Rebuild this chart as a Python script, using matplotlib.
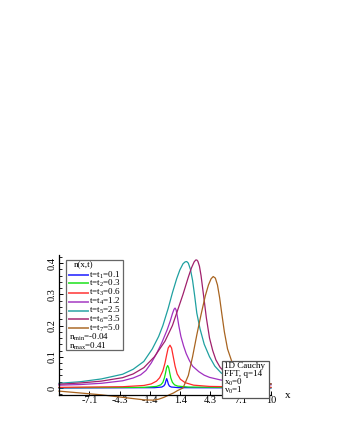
import matplotlib
matplotlib.use('Agg')
import matplotlib.pyplot as plt
from matplotlib.patches import Rectangle
from matplotlib.lines import Line2D
from matplotlib.ticker import MultipleLocator

plt.rcParams['font.family'] = ['Liberation Serif', 'DejaVu Serif']
plt.rcParams['mathtext.fontset'] = 'custom'
plt.rcParams['mathtext.rm'] = 'Liberation Serif'
plt.rcParams['mathtext.it'] = 'Liberation Serif:italic'

# curves, one (x, n) list per time
x_t1 = [-10, -1, -0.3, -0.1, 0.0, 0.08, 0.16, 0.24, 0.32, 0.42, 0.6, 1.3, 10]
n_t1 = [0, 0.001, 0.003, 0.007, 0.012, 0.022, 0.03, 0.022, 0.012, 0.006,
        0.003, 0.001, 0]

x_t2 = [-10, -2, -0.8, -0.4, -0.2, -0.05, 0.05, 0.15, 0.25, 0.35, 0.45, 0.55,
        0.7, 0.9, 1.2, 2.2, 10]
n_t2 = [0.001, 0.002, 0.005, 0.01, 0.018, 0.033, 0.048, 0.065, 0.072, 0.065,
        0.048, 0.032, 0.018, 0.01, 0.006, 0.003, 0.001]

x_t3 = [-10, -4, -2, -1.3, -0.8, -0.5, -0.2, 0.0, 0.15, 0.3, 0.47, 0.62, 0.78,
        0.95, 1.15, 1.45, 1.9, 2.7, 4.2, 10]
n_t3 = [0.002, 0.004, 0.008, 0.013, 0.022, 0.033, 0.055, 0.08, 0.105, 0.128,
        0.137, 0.128, 0.1, 0.07, 0.045, 0.028, 0.017, 0.009, 0.005, 0.002]

x_t4 = [-10, -8, -6, -4, -3, -2.3, -1.8, -1.3, -0.8, -0.3, 0.2, 0.5, 0.7, 0.85,
        0.95, 1.05, 1.15, 1.3, 1.5, 1.75, 2.0, 2.3, 2.6, 3.2, 3.7, 4.2, 5.2,
        6.2, 7.2, 8.2, 10]
n_t4 = [0.009, 0.011, 0.015, 0.023, 0.032, 0.042, 0.056, 0.08, 0.11, 0.145,
        0.186, 0.215, 0.238, 0.252, 0.256, 0.25, 0.232, 0.2, 0.165, 0.135,
        0.11, 0.088, 0.07, 0.052, 0.041, 0.034, 0.026, 0.02, 0.016, 0.013, 0.01]

x_t5 = [-10, -8, -6, -4, -3, -2, -1.2, -0.6, -0.2, 0.3, 0.7, 1.1, 1.4, 1.7,
        1.9, 2.05, 2.2, 2.4, 2.6, 2.8, 3.0, 3.3, 3.7, 4.2, 4.7, 5.3, 6.2, 7.2,
        8.2, 10]
n_t5 = [0.015, 0.02, 0.029, 0.044, 0.06, 0.085, 0.125, 0.165, 0.2, 0.255,
        0.305, 0.35, 0.378, 0.398, 0.404, 0.405, 0.4, 0.38, 0.345, 0.295, 0.24,
        0.19, 0.14, 0.1, 0.07, 0.048, 0.032, 0.023, 0.018, 0.013]

x_t6 = [-10, -8, -6, -4, -3, -2, -1, 0, 0.7, 1.2, 1.7, 2.2, 2.5, 2.75, 2.9,
        3.0, 3.1, 3.25, 3.4, 3.55, 3.7, 3.9, 4.2, 4.5, 4.8, 5.2, 5.8, 6.7, 7.7,
        8.7, 10]
n_t6 = [0.012, 0.016, 0.022, 0.033, 0.045, 0.065, 0.1, 0.15, 0.2, 0.25, 0.3,
        0.355, 0.385, 0.404, 0.41, 0.41, 0.406, 0.39, 0.36, 0.32, 0.28, 0.225,
        0.16, 0.12, 0.09, 0.066, 0.045, 0.03, 0.022, 0.017, 0.013]

x_t7 = [-10, -8, -6, -4, -3, -2, -1.1, -0.6, -0.1, 0.4, 0.8, 1.2, 1.7, 2.2,
        2.6, 3.0, 3.4, 3.8, 4.1, 4.35, 4.55, 4.75, 4.95, 5.15, 5.35, 5.6, 5.9,
        6.4, 7.0, 7.7, 8.7, 10]
n_t7 = [-0.01, -0.016, -0.022, -0.03, -0.034, -0.038, -0.039, -0.036, -0.03,
        -0.022, -0.016, -0.008, 0.0, 0.04, 0.1, 0.17, 0.235, 0.295, 0.33, 0.35,
        0.357, 0.352, 0.33, 0.29, 0.24, 0.18, 0.125, 0.075, 0.045, 0.03, 0.02,
        0.013]

curves = [(x_t1, n_t1), (x_t2, n_t2), (x_t3, n_t3), (x_t4, n_t4),
          (x_t5, n_t5), (x_t6, n_t6), (x_t7, n_t7)]
labels = [r't=t$_1$=0.1', r't=t$_2$=0.3', r't=t$_3$=0.6', r't=t$_4$=1.2',
          r't=t$_5$=2.5', r't=t$_6$=3.5', r't=t$_7$=5.0']
colors = ['#1010ff', '#10e010', '#ff2a2a', '#a030c0', '#1fa0a0', '#a0206c', '#a86420']

x_ticks = [-7.14, -4.29, -1.43, 1.43, 4.29, 7.14, 10]
x_ticklabels = ['-7.1', '-4.3', '-1.4', '1.4', '4.3', '7.1', '10']
y_ticks = [0, 0.1, 0.2, 0.3, 0.4]
y_ticklabels = ['0', '0.1', '0.2', '0.3', '0.4']

fig = plt.figure(figsize=(3.4, 4.4), dpi=100)
ax = fig.add_axes([59 / 340, 45 / 440, 212 / 340, 140 / 440])

for (xs, ns), c in zip(curves, colors):
    ax.plot(xs, ns, color=c, lw=0.9, clip_on=False, zorder=2)

ax.set_xlim(-10, 10)
ax.set_ylim(-0.0225, 0.426)
for s in ['top', 'right']:
    ax.spines[s].set_visible(False)
for s in ['left', 'bottom']:
    ax.spines[s].set_linewidth(0.9)

ax.set_xticks(x_ticks)
ax.set_xticklabels(x_ticklabels)
ax.set_yticks(y_ticks)
ax.set_yticklabels(y_ticklabels, rotation=90, va='center')
ax.yaxis.set_minor_locator(MultipleLocator(0.02))
ax.tick_params(direction='in', length=3, width=0.7, labelsize=7.5, pad=2)
ax.tick_params(which='minor', direction='in', length=2, width=0.6)
ax.tick_params(axis='x', pad=1)

ax.text(1.08, 0.0, 'x', transform=ax.transAxes, fontsize=8,
        ha='center', va='center')

# legend box
fs = 6.5
ax.add_patch(Rectangle((0.033, 0.32), 0.27, 0.645, transform=ax.transAxes,
                       facecolor='white', edgecolor='#666666', lw=0.9, zorder=5))
ax.text(0.07, 0.93, 'n(x,t)', transform=ax.transAxes, fontsize=fs,
        va='center', ha='left', zorder=6)
row_y = [0.857, 0.798, 0.731, 0.666, 0.602, 0.541, 0.476]
for yy, lab, c in zip(row_y, labels, colors):
    ax.add_line(Line2D([0.045, 0.135], [yy, yy], transform=ax.transAxes,
                       color=c, lw=1.4, alpha=0.75, zorder=6))
    ax.text(0.14, yy, lab, transform=ax.transAxes, fontsize=fs,
            va='center', ha='left', zorder=6)
ax.text(0.045, 0.412, r'n$_{\rm min}$=-0.04', transform=ax.transAxes,
        fontsize=fs, va='center', ha='left', zorder=6)
ax.text(0.045, 0.35, r'n$_{\rm max}$=0.41', transform=ax.transAxes,
        fontsize=fs, va='center', ha='left', zorder=6)

# info box
ax.add_patch(Rectangle((0.77, -0.02), 0.22, 0.263, transform=ax.transAxes,
                       facecolor='white', edgecolor='#555555', lw=0.9,
                       zorder=5, clip_on=False))
info = ['1D Cauchy', 'FFT, q=14', r'x$_0$=0', r'v$_0$=1']
info_y = [0.21, 0.148, 0.09, 0.035]
for yy, t in zip(info_y, info):
    ax.text(0.78, yy, t, transform=ax.transAxes, fontsize=fs,
            va='center', ha='left', zorder=6, clip_on=False)

fig.savefig('out.png', dpi=100)
